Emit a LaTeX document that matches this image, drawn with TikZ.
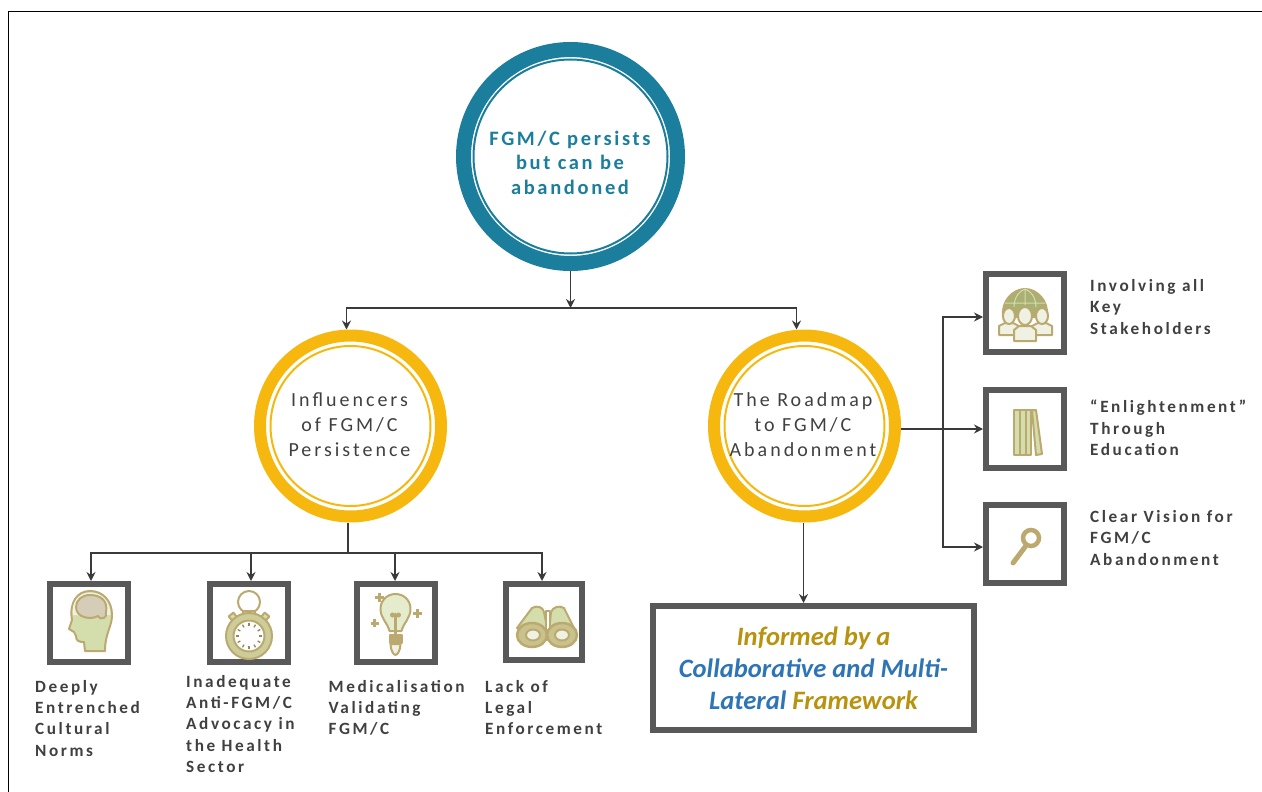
\documentclass[tikz,border=0pt]{standalone}
\usepackage{fontspec}
\usepackage{tikz}
\usetikzlibrary{arrows.meta}
\usetikzlibrary{positioning}
\setmainfont{Carlito}
\newfontfamily\spaced[LetterSpace=13]{Carlito}
\newfontfamily\wider[LetterSpace=15]{Carlito}
\definecolor{tealring}{HTML}{1B7E9C}
\definecolor{yellowring}{HTML}{F6B80F}
\definecolor{boxgrey}{HTML}{595959}
\definecolor{linegrey}{HTML}{3A3A3A}
\definecolor{textgrey}{HTML}{404040}
\definecolor{tan}{HTML}{BCA96F}
\definecolor{leaf}{HTML}{D4DDAC}
\definecolor{moss}{HTML}{A9B072}
\definecolor{cream}{HTML}{EFF2E2}
\definecolor{brain}{HTML}{D6CDB9}
\definecolor{nameblue}{HTML}{2E75B6}
\definecolor{namegold}{HTML}{B8930F}
\tikzset{
  conn/.style={draw=linegrey,line width=1.5pt,-{Stealth[length=9pt,width=9pt]}},
  plainconn/.style={draw=linegrey,line width=1.5pt},
  tealcircle/.style={circle,draw=tealring,line width=15pt,minimum size=214pt,inner sep=0pt},
  tealtxt/.style={align=center,text=tealring,font=\spaced\bfseries\fontsize{20.5}{24.6}\selectfont},
  yellowcircle/.style={circle,draw=yellowring,line width=12pt,minimum size=181pt,inner sep=0pt},
  yellowtxt/.style={align=center,text=textgrey,font=\wider\fontsize{20}{25}\selectfont},
  iconbox/.style={draw=boxgrey,line width=6pt,fill=white,minimum size=78pt,inner sep=0pt},
  caption/.style={inner sep=0pt,align=left,text=textgrey,
    font=\wider\bfseries\fontsize{17.2}{21.3}\selectfont},
  icon/.style={draw=tan,line width=2pt,line join=round},
  headpic/.pic={
    \draw[icon,fill=leaf] (1,-32) .. controls (14,-32) and (23,-22) .. (23,-8)
      .. controls (23,4) and (16,10) .. (16,28) -- (-4,28) -- (-5,19)
      .. controls (-10,19) and (-13,18) .. (-13,13) -- (-15,9) -- (-20,6)
      -- (-17,-3) .. controls (-20,-20) and (-12,-32) .. (1,-32) -- cycle;
    \fill[cream] (1,-30.5) .. controls (13,-30.5) and (21.5,-22) .. (21.5,-8)
      -- (-16,-8) .. controls (-18,-20) and (-11,-30.5) .. (1,-30.5) -- cycle;
    \draw[icon,fill=brain] (1,-28) .. controls (13,-28) and (19,-21) .. (17,-11)
      .. controls (19,-5) and (11,-2) .. (9,-7) .. controls (2,-3) and (-13,-5) .. (-13,-16)
      .. controls (-13,-23) and (-7,-28) .. (1,-28) -- cycle;
  },
  watchpic/.pic={
    \draw[icon] (0,-21) circle (11pt);
    \draw[icon,fill=leaf] (-6,-12) rectangle (6,-6);
    \draw[icon,fill=leaf,rotate around={-40:(0,13)}] (-3,-15) rectangle (3,-9);
    \draw[icon,fill=leaf,rotate around={40:(0,13)}] (-3,-15) rectangle (3,-9);
    \draw[icon,fill=leaf!70!tan] (0,13) circle (23pt);
    \draw[icon,fill=white] (0,13) circle (15.5pt);
    \foreach \tick in {0,30,...,330}
      \draw[draw=tan!80!black,line width=1.3pt] (0,13) ++(\tick:10pt) -- ++(\tick:3pt);
  },
  bulbpic/.pic={
    \draw[icon,fill=leaf!60!white] (-6,8) .. controls (-8,0) and (-15,-5) .. (-15,-14)
      .. controls (-15,-23) and (-8,-29) .. (0,-29)
      .. controls (8,-29) and (15,-23) .. (15,-14)
      .. controls (15,-5) and (8,0) .. (6,8) -- cycle;
    \draw[draw=tan,line width=3pt,line cap=round] (0,-9) -- (0,12);
    \fill[tan] (-3,-8) circle (2.5pt) (3,-8) circle (2.5pt);
    \draw[icon,fill=tan] (-6,12) rectangle (6,20);
    \draw[icon,fill=cream] (-5,21) -- (5,21) .. controls (5,27) and (2,32) .. (0,32)
      .. controls (-2,32) and (-5,27) .. (-5,21) -- cycle;
    \foreach \spotx/\spoty/\spotr in {-16/-26/4.5,22/-10/4.5,-21/0/4}
      \draw[draw=tan,line width=3pt] (\spotx-\spotr,\spoty) -- (\spotx+\spotr,\spoty)
        (\spotx,\spoty-\spotr) -- (\spotx,\spoty+\spotr);
  },
  binocpic/.pic={
    \draw[icon,fill=leaf] (-27,6) -- (-12,-14) .. controls (-7,-17) and (-1,-15) .. (0,-10)
      -- (4,10) -- cycle;
    \draw[icon,fill=leaf] (32,10) -- (20,-14) .. controls (15,-17) and (9,-15) .. (7,-10)
      -- (5,10) -- cycle;
    \draw[icon,fill=white] (2,-11) rectangle (6,8);
    \draw[icon,fill=leaf!50!tan,line width=2.5pt] (-12,13) ellipse (15pt and 12pt);
    \draw[icon,fill=leaf!50!tan,line width=2.5pt] (18,13) ellipse (15pt and 12pt);
    \draw[icon,fill=cream] (-11,13) ellipse (7pt and 5.5pt);
    \draw[icon,fill=cream] (18,13) ellipse (7pt and 5.5pt);
  },
  globepic/.pic={
    \draw[icon,fill=moss] (-22,4) .. controls (-24,-12) and (-12,-24) .. (0,-24)
      .. controls (12,-24) and (24,-12) .. (22,4) -- cycle;
    \draw[draw=leaf,line width=1pt] (0,-24) -- (0,-8) (-20,-10) -- (20,-10)
      (0,-24) .. controls (-9,-20) and (-11,-12) .. (-11,-6)
      (0,-24) .. controls (9,-20) and (11,-12) .. (11,-6);
    \foreach \headx in {-16,17} {
      \draw[icon,fill=cream] (\headx-10,22) -- (\headx-10,13) -- (\headx-4,10) -- (\headx+4,10)
        -- (\headx+10,13) -- (\headx+10,22) -- cycle;
      \draw[icon,fill=cream] (\headx,3) ellipse (6pt and 8pt);
    }
    \draw[icon,fill=cream] (-11,28) -- (-11,17) -- (-6,13) -- (6,13) -- (11,17) -- (11,28) -- cycle;
    \draw[icon,fill=cream] (0,3) ellipse (7pt and 9pt);
  },
  bookpic/.pic={
    \draw[icon,fill=leaf] (-11,-19) rectangle (6,26);
    \foreach \spine in {-5,1}
      \draw[draw=tan,line width=2pt] (\spine,-19) -- (\spine,26);
    \draw[icon,fill=leaf] (7,-19) -- (11,-19) -- (17,25) -- (11,26) -- cycle;
  },
  lenspic/.pic={
    \draw[draw=tan,line width=4.5pt] (6,-6) circle (8pt);
    \draw[draw=tan,line width=5pt,line cap=round] (0,3) -- (-12,19);
  },
}
\begin{document}
\begin{tikzpicture}[x=1pt,y=-1pt]
  \useasboundingbox (0,0) rectangle (1262,792);
  \draw[black,line width=1pt] (8,792) -- (8,12) -- (1262,12);

  % circles
  \node[tealcircle] (persist) at (570.5,156.5) {};
  \draw[tealring,line width=2pt] (persist.center) circle (97pt);
  \node[tealtxt] (persisttxt) at (570,162.5) {FGM/C persists\\but can be\\abandoned};
  \node[yellowcircle] (influence) at (350.5,426) {};
  \draw[yellowring,line width=2pt] (influence.center) circle (80pt);
  \node[yellowtxt] (influencetxt) at (349.5,425) {Influencers\\of FGM/C\\Persistence};
  \node[yellowcircle] (roadmap) at (804.5,426) {};
  \draw[yellowring,line width=2pt] (roadmap.center) circle (80pt);
  \node[yellowtxt] (roadmaptxt) at (803,425) {The Roadmap\\to FGM/C\\Abandonment};

  % boxes under the left circle
  \node[iconbox] (normsbox) at (89,623) {};
  \node[iconbox] (advocacybox) at (249,623) {};
  \node[iconbox] (medicbox) at (395.5,623) {};
  \node[iconbox,minimum size=76pt] (lawbox) at (544,622) {};
  \pic at (normsbox) {headpic};
  \pic at (advocacybox) {watchpic};
  \pic at (medicbox) {bulbpic};
  \pic at (lawbox) {binocpic};

  % boxes right of the right circle
  \node[iconbox] (stakebox) at (1025,313) {};
  \node[iconbox] (edubox) at (1025,429) {};
  \node[iconbox] (visionbox) at (1025,544) {};
  \pic at (stakebox) {globepic};
  \pic at (edubox) {bookpic};
  \pic at (visionbox) {lenspic};

  \node[draw=boxgrey,line width=6pt,minimum width=321pt,minimum height=124pt,inner sep=0pt,
    align=center,font=\bfseries\itshape\fontsize{26.6}{32}\selectfont] (frame) at (813.5,668)
    {\textcolor{namegold}{Informed by a}\\
     \textcolor{nameblue}{Collaborative and Multi-}\\
     \textcolor{nameblue}{Lateral} \textcolor{namegold}{Framework}};

  % captions
  \node[caption,below right=15pt and -12pt of normsbox.south west] (normstxt)
    {Deeply\\Entrenched\\Cultural\\Norms};
  \node[caption,below right=10pt and -21pt of advocacybox.south west] (advocacytxt)
    {Inadequate\\Anti-FGM/C\\Advocacy in\\the Health\\Sector};
  \node[caption,below right=15pt and -25pt of medicbox.south west] (medictxt)
    {Medicalisation\\Validating\\FGM/C};
  \node[caption,below right=17pt and -18pt of lawbox.south west] (lawtxt)
    {Lack of\\Legal\\Enforcement};
  \node[caption,right=23pt of stakebox,yshift=6pt] (staketxt)
    {Involving all\\Key\\Stakeholders};
  \node[caption,right=23pt of edubox,yshift=1pt] (edutxt)
    {“Enlightenment”\\Through\\Education};
  \node[caption,right=23pt of visionbox,yshift=6pt] (visiontxt)
    {Clear Vision for\\FGM/C\\Abandonment};

  % connectors
  \coordinate (topfork) at (570.5,308);
  \coordinate (leftfork) at (348,553);
  \coordinate (rightfork) at (943,429);
  \draw[conn] (persist.south) -- (topfork);
  \draw[conn] (topfork) -| ([xshift=-4pt]influence.north);
  \draw[conn] (topfork) -| ([xshift=-8pt]roadmap.north);
  \draw[plainconn] (influence.south -| leftfork) -- (leftfork);
  \draw[conn] (leftfork) -| ([xshift=2pt]normsbox.north);
  \draw[conn] (leftfork) -| ([xshift=2pt]advocacybox.north);
  \draw[conn] (leftfork) -| ([xshift=-0.5pt]medicbox.north);
  \draw[conn] (leftfork) -| ([xshift=-2pt]lawbox.north);
  \draw[conn] (roadmap.east |- rightfork) -- (edubox.west);
  \draw[conn] (rightfork) |- ([yshift=-4pt]stakebox.west);
  \draw[conn] (rightfork) |- ([yshift=-3pt]visionbox.west);
  \draw[conn] (roadmap.south -| frame.north) ++(-10pt,0pt) -- ([xshift=-10pt]frame.north);
\end{tikzpicture}
\end{document}
